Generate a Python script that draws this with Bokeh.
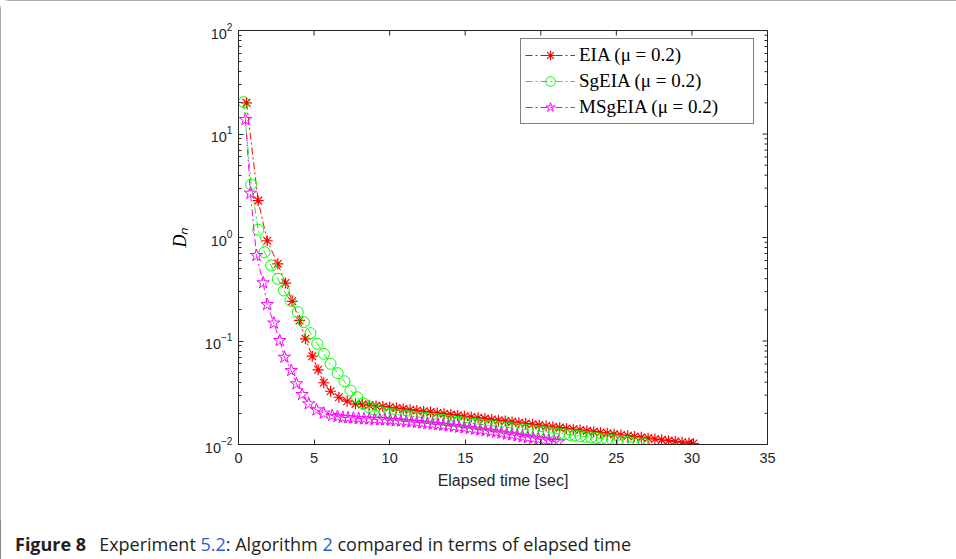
import math
from bokeh.plotting import figure
from bokeh.layouts import column
from bokeh.models import FixedTicker, Legend, LegendItem, Div
from bokeh.embed import file_html
from bokeh.resources import INLINE

# ---------------- data ----------------
eia_t = [0.53, 1.30, 1.90, 2.60, 3.11, 3.55, 4.04, 4.43, 4.88, 5.27, 5.64, 6.09, 6.64, 7.19, 7.74,
         8.20, 8.65, 9.10, 9.55, 10.00, 10.45, 10.90, 11.35, 11.80, 12.25, 12.70, 13.15, 13.60,
         14.05, 14.50, 14.95, 15.40, 15.85, 16.30, 16.75, 17.20, 17.65, 18.10, 18.55, 19.00,
         19.45, 19.90, 20.35, 20.80, 21.25, 21.70, 22.15, 22.60, 23.05, 23.50, 23.95, 24.40,
         24.85, 25.30, 25.75, 26.20, 26.65, 27.10, 27.55, 28.00, 28.45, 28.90, 29.35, 29.80, 30.10]
eia_d = [20.0, 2.27, 0.93, 0.557, 0.363, 0.242, 0.158, 0.105, 0.0713, 0.0527, 0.0395, 0.0327,
         0.0286, 0.0262, 0.0247,
         0.02443, 0.02399, 0.02360, 0.02328, 0.02291, 0.02249, 0.02208, 0.02168, 0.02128, 0.02094,
         0.02056, 0.02018, 0.01982, 0.01945, 0.01910, 0.01875, 0.01841, 0.01811, 0.01778, 0.01746,
         0.01714, 0.01683, 0.01652, 0.01622, 0.01592, 0.01567, 0.01538, 0.01510, 0.01483, 0.01455,
         0.01429, 0.01403, 0.01380, 0.01355, 0.01330, 0.01306, 0.01282, 0.01259, 0.01236, 0.01216,
         0.01194, 0.01172, 0.01151, 0.01130, 0.01109, 0.01089, 0.01072, 0.01052, 0.01033, 0.01021]

sg_t = [0.35, 0.84, 1.30, 1.72, 2.16, 2.60, 3.00, 3.44, 3.92, 4.32, 4.76, 5.21, 5.65, 6.09, 6.56,
        7.01, 7.41, 7.85, 8.25, 8.62, 8.98, 9.33, 9.68, 10.03, 10.38, 10.73, 11.08, 11.43, 11.78,
        12.13, 12.48, 12.83, 13.18, 13.53, 13.88, 14.23, 14.58, 14.93, 15.28, 15.63, 15.98, 16.33,
        16.68, 17.03, 17.38, 17.73, 18.08, 18.43, 18.78, 19.13, 19.48, 19.83, 20.18, 20.53, 20.88,
        21.23, 21.58, 21.93, 22.28, 22.63, 22.98, 23.33, 23.68, 24.03, 24.38, 24.73, 25.08, 25.43,
        25.78, 26.13, 26.48, 26.83]
sg_d = [20.3, 3.25, 1.19, 0.72, 0.537, 0.399, 0.308, 0.246, 0.190, 0.152, 0.119, 0.094, 0.0752,
        0.0602, 0.0489, 0.0408, 0.0332, 0.0286, 0.0250, 0.0230, 0.0217, 0.0209, 0.0203, 0.0198,
        0.01954, 0.01928, 0.01901, 0.01875, 0.01849, 0.01824, 0.01799, 0.01774, 0.01750, 0.01726,
        0.01702, 0.01679, 0.01656, 0.01633, 0.01611, 0.01589, 0.01567, 0.01545, 0.01524, 0.01503,
        0.01483, 0.01462, 0.01442, 0.01422, 0.01403, 0.01384, 0.01365, 0.01346, 0.01327, 0.01309,
        0.01291, 0.01274, 0.01256, 0.01239, 0.01222, 0.01205, 0.01189, 0.01172, 0.01156, 0.01140,
        0.01125, 0.01109, 0.01094, 0.01079, 0.01064, 0.01050, 0.01035, 0.01021]

msg_t = [0.46, 0.79, 1.19, 1.63, 1.90, 2.34, 2.73, 3.04, 3.49, 3.84, 4.21, 4.65, 5.16, 5.64,
         6.20, 6.55, 6.90, 7.25, 7.60, 7.95, 8.30, 8.65, 9.00, 9.35, 9.70, 10.05, 10.40, 10.75,
         11.10, 11.45, 11.80, 12.15, 12.50, 12.85, 13.20, 13.55, 13.90, 14.25, 14.60, 14.95,
         15.30, 15.65, 16.00, 16.35, 16.70, 17.05, 17.40, 17.75, 18.10, 18.45, 18.80, 19.15,
         19.50, 19.85, 20.20, 20.55, 20.90, 21.15]
msg_d = [13.8, 2.68, 0.67, 0.365, 0.225, 0.149, 0.101, 0.0697, 0.0519, 0.0386, 0.0304, 0.0247,
         0.0216, 0.0201,
         0.01905, 0.01862, 0.01832, 0.01816, 0.01799, 0.01782, 0.01770, 0.01758, 0.01746, 0.01738,
         0.01726, 0.01714, 0.01698, 0.01683, 0.01663, 0.01648, 0.01633, 0.01614, 0.01592, 0.01574,
         0.01552, 0.01535, 0.01514, 0.01493, 0.01472, 0.01449, 0.01426, 0.01403, 0.01380, 0.01358,
         0.01337, 0.01315, 0.01288, 0.01262, 0.01239, 0.01213, 0.01189, 0.01167, 0.01146, 0.01125,
         0.01107, 0.01086, 0.01069, 0.01057]

labels = ["EIA (\u03bc = 0.2)", "SgEIA (\u03bc = 0.2)", "MSgEIA (\u03bc = 0.2)"]
x_ticks = [0, 5, 10, 15, 20, 25, 30, 35]
y_ticks = [0.01, 0.1, 1, 10, 100]
y_minor = [m * 10.0 ** k for k in range(-2, 2) for m in range(2, 10)]
y_label = "D\u2099"

caption_bold = "Figure 8"
caption_parts = ["Experiment ", "5.2", ": Algorithm ", "2", " compared in terms of elapsed time"]
caption_is_link = [False, True, False, True, False]

X_MIN, X_MAX = 0, 35
Y_MIN, Y_MAX = 0.01, 100

# ---------------- layout (pixels) ----------------
W = 956
H_PLOT, H_CAP = 520, 39
FL, FT, FW, FH = 238, 30, 529, 414     # frame left, top, width, height

AX = "#262626"
p = figure(width=W, height=H_PLOT, x_range=(X_MIN, X_MAX), y_range=(Y_MIN, Y_MAX),
           y_axis_type="log", output_backend="svg", toolbar_location=None,
           min_border_left=FL, min_border_right=W - FL - FW, min_border_top=FT,
           min_border_bottom=H_PLOT - FT - FH,
           background_fill_color="white", border_fill_color="white")
p.grid.visible = False
p.outline_line_color = AX
p.outline_line_width = 1


def style_axis(ax):
    ax.major_tick_in = 5
    ax.major_tick_out = 0
    ax.minor_tick_in = 3
    ax.minor_tick_out = 0
    ax.axis_line_color = AX
    ax.major_tick_line_color = AX
    ax.minor_tick_line_color = AX
    ax.major_label_text_font = "Liberation Sans"
    ax.major_label_text_font_size = "14.5px"
    ax.major_label_text_color = "#262626"


xa = p.xaxis[0]
xa.ticker = FixedTicker(ticks=x_ticks)
style_axis(xa)
xa.major_label_standoff = 8
xa.axis_label = "Elapsed time [sec]"
xa.axis_label_text_font = "Liberation Sans"
xa.axis_label_text_font_size = "16px"
xa.axis_label_text_font_style = "normal"
xa.axis_label_text_color = "#262626"
xa.axis_label_standoff = 6

ya = p.yaxis[0]
ya.ticker = FixedTicker(ticks=y_ticks, minor_ticks=y_minor)
style_axis(ya)
ya.major_label_standoff = 6
ya.axis_label = y_label
ya.axis_label_text_font = "Liberation Serif"
ya.axis_label_text_font_style = "italic"
ya.axis_label_text_font_size = "18px"
ya.axis_label_text_color = "black"
ya.axis_label_standoff = 12

# mirrored inward ticks on the top and right edges (half of each dash is clipped by the frame)
p.scatter(x_ticks, [Y_MAX] * len(x_ticks), marker="dash", angle=math.pi / 2, size=10,
          line_color=AX, line_width=1)
p.scatter([X_MAX] * len(y_ticks), y_ticks, marker="dash", size=10, line_color=AX, line_width=1)
p.scatter([X_MAX] * len(y_minor), y_minor, marker="dash", size=6, line_color=AX, line_width=1)

DASH = "7 3 2 3"
r1l = p.line(eia_t, eia_d, line_color="#FF0000", line_width=1, line_dash=DASH)
r1m = p.scatter(eia_t, eia_d, marker="asterisk", size=11, line_color="#FF0000", line_width=1.2)
r2l = p.line(sg_t, sg_d, line_color="#00FF00", line_width=1, line_dash=DASH)
r2m = p.scatter(sg_t, sg_d, marker="circle", size=11, fill_color=None,
                line_color="#00FF00", line_width=1)
r3l = p.line(msg_t, msg_d, line_color="#FF00FF", line_width=1, line_dash=DASH)
r3m = p.scatter(msg_t, msg_d, marker="star", size=13, fill_color=None,
                line_color="#FF00FF", line_width=1)

legend = Legend(items=[LegendItem(label=labels[0], renderers=[r1l, r1m]),
                       LegendItem(label=labels[1], renderers=[r2l, r2m]),
                       LegendItem(label=labels[2], renderers=[r3l, r3m])],
                location=(FW - 15 - 232, FH - 10 - 84), margin=0, padding=4, spacing=2,
                glyph_width=50, glyph_height=24, label_height=24, label_width=170,
                label_standoff=4, label_text_font="Liberation Serif",
                label_text_font_size="19px", label_text_color="black",
                border_line_color="black", border_line_width=1,
                background_fill_color="white", background_fill_alpha=1.0)
p.add_layout(legend)

# ---------------- caption (HTML text) ----------------
LINK = "#2a5bd7"
html = '<span style="font-weight:700;margin-right:13px">%s</span>' % caption_bold
for part, is_link in zip(caption_parts, caption_is_link):
    if is_link:
        html += '<span style="color:%s">%s</span>' % (LINK, part)
    else:
        html += '<span>%s</span>' % part.replace(" ", "&nbsp;")
cap = Div(text=html, width=W, height=H_CAP,
          styles={"font-family": "'Open Sans', sans-serif", "font-size": "18px",
                  "color": "#231f20", "line-height": "20px", "padding-top": "9px",
                  "padding-left": "10px", "box-sizing": "border-box", "white-space": "nowrap",
                  "background": "white"})

layout = column(p, cap, spacing=0,
                styles={"outline": "1px solid #8a8a8a", "outline-offset": "-1px",
                        "border-radius": "9px"})

open("out.html", "w").write(file_html(layout, INLINE))
